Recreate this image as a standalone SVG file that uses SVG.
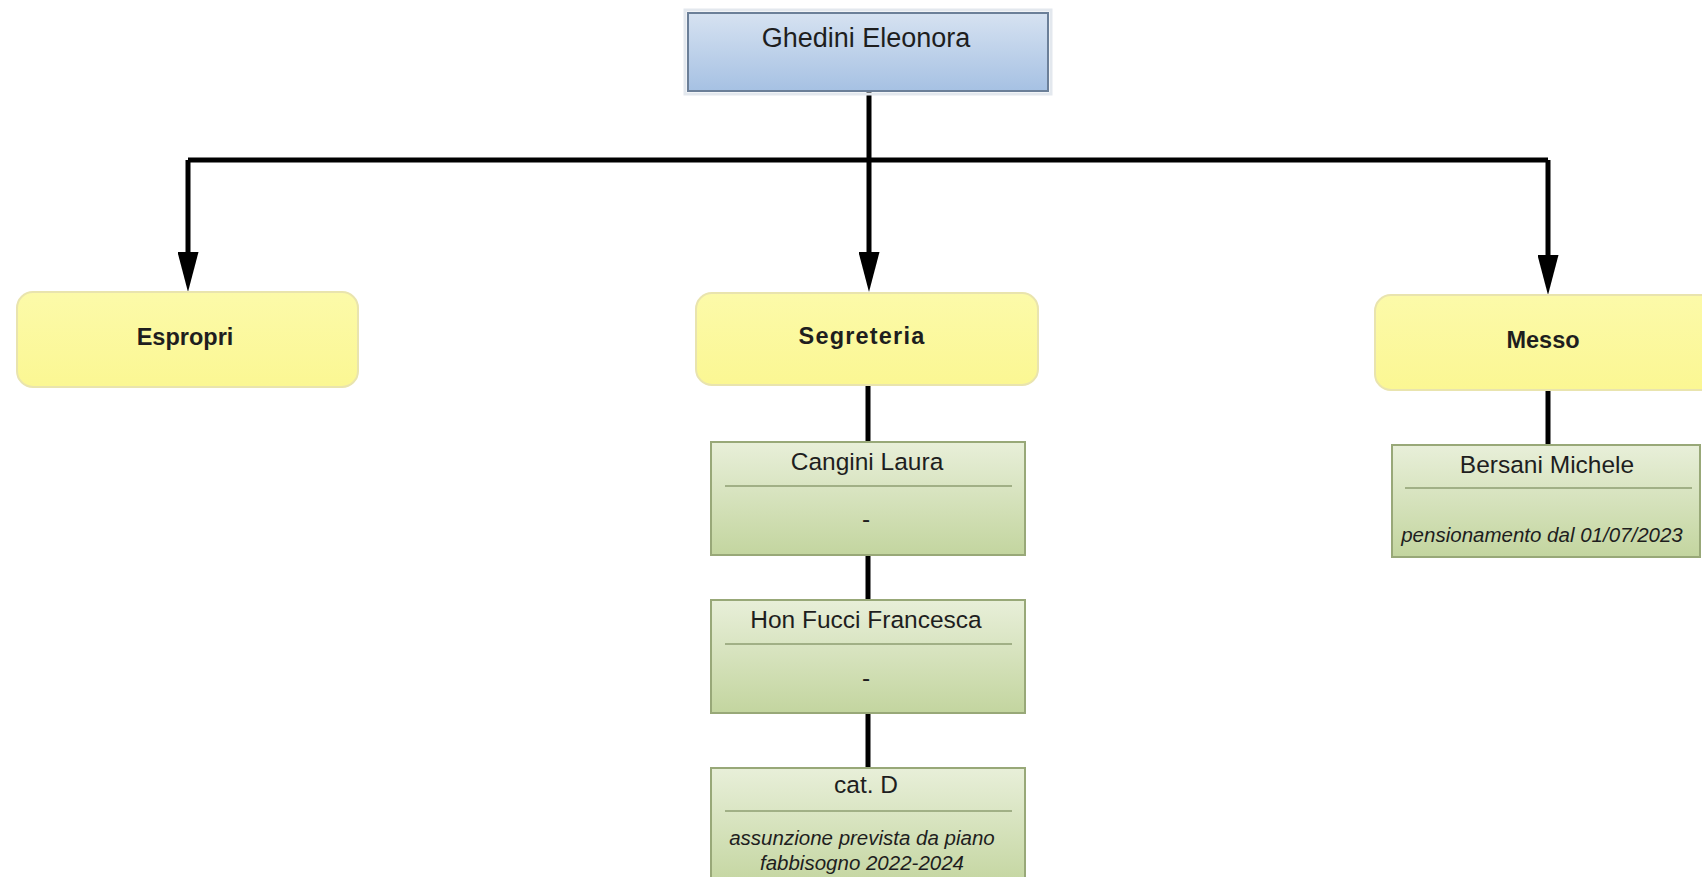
<svg xmlns="http://www.w3.org/2000/svg" width="1702" height="877" viewBox="0 0 1702 877">
  <defs>
    <linearGradient id="gBlue" x1="0" y1="0" x2="0" y2="1">
      <stop offset="0" stop-color="#d6e2f1"/>
      <stop offset="1" stop-color="#a6c1e3"/>
    </linearGradient>
    <linearGradient id="gYellow" x1="0" y1="0" x2="0" y2="1">
      <stop offset="0" stop-color="#fcfaa9"/>
      <stop offset="1" stop-color="#fbf793"/>
    </linearGradient>
    <linearGradient id="gGreen" x1="0" y1="0" x2="0" y2="1">
      <stop offset="0" stop-color="#e8efd9"/>
      <stop offset="1" stop-color="#c3d59f"/>
    </linearGradient>
    <marker id="arrow" markerUnits="userSpaceOnUse" markerWidth="40" markerHeight="21" refX="28" refY="10.5" orient="auto" viewBox="0 0 40 21">
      <path d="M0,0 L40,10.5 L0,21 Z" fill="#000"/>
    </marker>
    <style>
      .conn { fill: none; stroke: #000; stroke-width: 5; }
      .head { fill: url(#gBlue); stroke: #6b7f98; stroke-width: 2; }
      .halo { fill: none; stroke: #e3e8ee; stroke-width: 3; }
      .unit { fill: url(#gYellow); stroke: #e9e4ae; stroke-width: 2; }
      .person { fill: url(#gGreen); stroke: #98a878; stroke-width: 2; }
      .sep { stroke: #8e9e72; stroke-width: 1.5; }
      .t { font-family: "Liberation Sans", Arial, sans-serif; fill: #1e1e1e; text-anchor: middle; }
      .name { font-size: 24.5px; }
      .bold { font-size: 23.5px; font-weight: bold; }
      .note { font-size: 20.5px; font-style: italic; }
    </style>
  </defs>

  <rect width="1702" height="877" fill="#fff"/>

  <!-- connectors -->
  <g id="connectors">
    <path class="conn" d="M869,91 V160"/>
    <path class="conn" d="M188,160 H1548"/>
    <path class="conn" d="M188,160 V280" marker-end="url(#arrow)"/>
    <path class="conn" d="M869,160 V280" marker-end="url(#arrow)"/>
    <path class="conn" d="M1548,160 V283" marker-end="url(#arrow)"/>
    <path class="conn" d="M868,385 V442"/>
    <path class="conn" d="M868,555 V600"/>
    <path class="conn" d="M868,713 V768"/>
    <path class="conn" d="M1548,390 V445"/>
  </g>

  <!-- head -->
  <g id="ghedini">
    <rect class="halo" x="685" y="10" width="366" height="84"/>
    <rect class="head" x="688" y="13" width="360" height="78"/>
    <text class="t" x="866" y="47" font-size="27">Ghedini Eleonora</text>
  </g>

  <!-- units -->
  <g id="espropri">
    <rect class="unit" x="17" y="292" width="341" height="95" rx="16"/>
    <text class="t bold" x="185" y="345">Espropri</text>
  </g>
  <g id="segreteria">
    <rect class="unit" x="696" y="293" width="342" height="92" rx="16"/>
    <text class="t bold" x="862" y="344" letter-spacing="1.2">Segreteria</text>
  </g>
  <g id="messo">
    <rect class="unit" x="1375" y="295" width="345" height="95" rx="16"/>
    <text class="t bold" x="1543" y="348">Messo</text>
  </g>

  <!-- staff -->
  <g id="cangini">
    <rect class="person" x="711" y="442" width="314" height="113"/>
    <line class="sep" x1="725" y1="486" x2="1012" y2="486"/>
    <text class="t name" x="867" y="470">Cangini Laura</text>
    <text class="t name" x="866" y="527">-</text>
  </g>
  <g id="honfucci">
    <rect class="person" x="711" y="600" width="314" height="113"/>
    <line class="sep" x1="725" y1="644" x2="1012" y2="644"/>
    <text class="t name" x="866" y="628">Hon Fucci Francesca</text>
    <text class="t name" x="866" y="686">-</text>
  </g>
  <g id="catd">
    <rect class="person" x="711" y="768" width="314" height="120"/>
    <line class="sep" x1="725" y1="811" x2="1012" y2="811"/>
    <text class="t name" x="866" y="793">cat. D</text>
    <text class="t note" x="862" y="845">assunzione prevista da piano</text>
    <text class="t note" x="862" y="870">fabbisogno 2022-2024</text>
  </g>
  <g id="bersani">
    <rect class="person" x="1392" y="445" width="308" height="112"/>
    <line class="sep" x1="1405" y1="488" x2="1692" y2="488"/>
    <text class="t name" x="1547" y="473">Bersani Michele</text>
    <text class="t note" x="1542" y="542">pensionamento dal 01/07/2023</text>
  </g>
</svg>
